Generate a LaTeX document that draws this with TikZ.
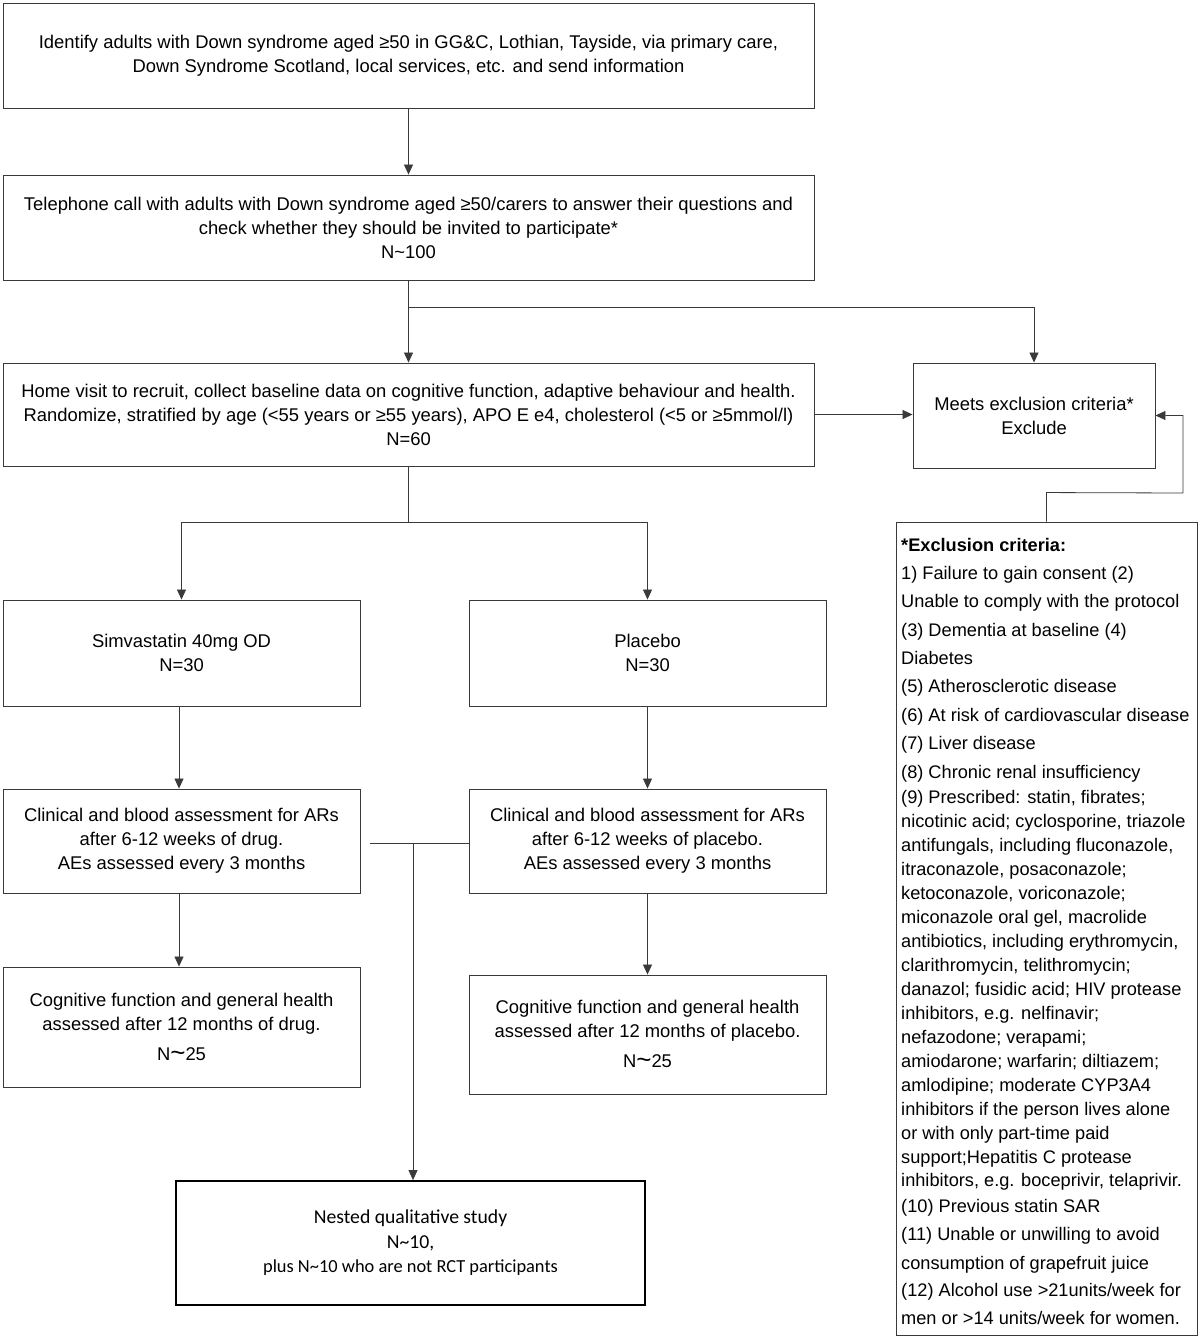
\documentclass[tikz,border=0pt]{standalone}
\usepackage{fontspec}
\setmainfont{Liberation Sans}
\newfontfamily\calib{Carlito}
\usetikzlibrary{arrows.meta,calc}
\definecolor{linec}{HTML}{3A3A3A}
\begin{document}
\begin{tikzpicture}[x=1pt,y=-1pt,
  box/.style={draw=linec, line width=0.9pt, align=center, inner sep=0pt,
    font=\fontsize{18.4}{24}\selectfont},
  conn/.style={draw=linec, line width=0.8pt},
  arr/.style={conn, -{Triangle[length=10pt,width=9pt]}},
  exl/.style={anchor=base west, inner sep=0pt, font=\fontsize{18.2}{20}\selectfont}
]
\useasboundingbox[fill=white] (0,0) rectangle (1200,1343);

\node[box, minimum width=811pt, minimum height=105pt] (b1) at (408.5,55.5)
 {Identify adults with Down syndrome aged ≥50 in GG\&C, Lothian, Tayside, via primary care,\\
  Down Syndrome Scotland, local services, etc. and send information};
\node[box, minimum width=811pt, minimum height=105pt] (b2) at (408.5,227.5)
 {Telephone call with adults with Down syndrome aged ≥50/carers to answer their questions and\\
  check whether they should be invited to participate*\\ N\textasciitilde 100};
\node[box, minimum width=811pt, minimum height=103pt] (b3) at (408.5,414.5)
 {Home visit to recruit, collect baseline data on cognitive function, adaptive behaviour and health.\\
  Randomize, stratified by age (<55 years or ≥55 years), APO E e4, cholesterol (<5 or ≥5mmol/l)\\ N=60};
\node[box, minimum width=242pt, minimum height=105pt] (meets) at (1034,415.5)
 {Meets exclusion criteria*\\ Exclude};
\node[box, minimum width=301pt, minimum height=813pt] (ex) at (1046.5,928.5) {};

\node[box, minimum width=357pt, minimum height=106pt] (simva) at (181.5,653)
 {Simvastatin 40mg OD\\ N=30};
\node[box, minimum width=357pt, minimum height=106pt] (plac) at (647.5,653)
 {Placebo\\ N=30};
\node[box, minimum width=357pt, minimum height=104pt] (clinL) at (181.5,841)
 {Clinical and blood assessment for ARs\\ after 6-12 weeks of drug.\\ AEs assessed every 3 months};
\node[box, minimum width=357pt, minimum height=104pt] (clinR) at (647.5,841)
 {Clinical and blood assessment for ARs\\ after 6-12 weeks of placebo.\\ AEs assessed every 3 months};
\node[box, minimum width=357pt, minimum height=120pt] (cogL) at (181.5,1027)
 {Cognitive function and general health\\ assessed after 12 months of drug.\\[6pt]
  N{\fontsize{26}{24}\selectfont\raisebox{-1pt}{\textasciitilde}}25};
\node[box, minimum width=357pt, minimum height=119pt] (cogR) at (647.5,1034.5)
 {Cognitive function and general health\\ assessed after 12 months of placebo.\\[6pt]
  N{\fontsize{26}{24}\selectfont\raisebox{-1pt}{\textasciitilde}}25};
\node[box, draw=black, line width=1.8pt, minimum width=469pt, minimum height=124pt,
  font=\calib\fontsize{19.7}{24.5}\selectfont] (nest) at (410.5,1243)
 {Nested qualitative study\\ N\textasciitilde 10,\\ {\fontsize{18.4}{24}\selectfont plus N\textasciitilde 10 who are not RCT participants}};

% exclusion text
\foreach \yy/\tt in {
 579/{1) Failure to gain consent (2)},
 607/{Unable to comply with the protocol},
 636/{(3) Dementia at baseline (4)},
 664/{Diabetes},
 692/{(5) Atherosclerotic disease},
 721/{(6) At risk of cardiovascular disease},
 749/{(7) Liver disease},
 778/{(8) Chronic renal insufficiency},
 803/{(9) Prescribed: statin, fibrates;},
 827/{nicotinic acid; cyclosporine, triazole},
 851/{antifungals, including fluconazole,},
 875/{itraconazole, posaconazole;},
 899/{ketoconazole, voriconazole;},
 923/{miconazole oral gel, macrolide},
 947/{antibiotics, including erythromycin,},
 971/{clarithromycin, telithromycin;},
 995/{danazol; fusidic acid; HIV protease},
 1019/{inhibitors, e.g. nelfinavir;},
 1043/{nefazodone; verapami;},
 1067/{amiodarone; warfarin; diltiazem;},
 1091/{amlodipine; moderate CYP3A4},
 1115/{inhibitors if the person lives alone},
 1139/{or with only part-time paid},
 1163/{support;Hepatitis C protease},
 1186/{inhibitors, e.g. boceprivir, telaprivir.},
 1212/{(10) Previous statin SAR},
 1240/{(11) Unable or unwilling to avoid},
 1269/{consumption of grapefruit juice},
 1296/{(12) Alcohol use >21units/week for},
 1324/{men or >14 units/week for women.}}
 {\node[exl] (exl\yy) at (901,\yy) {\tt};}
\node[exl, font=\bfseries\fontsize{18.2}{20}\selectfont] (exhead) at (901,551) {*Exclusion criteria:};

% connectors
\draw[arr] (b1.south) -- (b2.north);
\draw[arr] (b2.south) -- (b3.north);
\coordinate (br) at ($(b2.south)+(0,27)$);
\draw[arr] (br) -| (meets.north);
\draw[arr] (b3.east) -- (b3.east -| meets.west);
\coordinate (exup) at ($(ex.north)+(0,-29)$);
\coordinate (exr) at (1183,493);
\draw[arr] (ex.north) -- (exup) -- (exr) |- (meets.east);

\coordinate (sp) at ($(b3.south)+(0,56)$);
\draw[conn] (b3.south) -- (sp);
\draw[arr] (sp) -| (simva.north);
\draw[arr] (sp) -| (plac.north);
\draw[arr] (simva.south -| 179,0) -- (clinL.north -| 179,0);
\draw[arr] (plac.south) -- (clinR.north);
\draw[arr] (clinL.south -| 179,0) -- (cogL.north -| 179,0);
\draw[arr] (clinR.south) -- (cogR.north);

\coordinate (ml) at (370,843);
\coordinate (mj) at (413,843);
\draw[conn] (ml) -- (ml -| clinR.west);
\draw[arr] (mj) -- (mj |- nest.north);
\end{tikzpicture}
\end{document}
